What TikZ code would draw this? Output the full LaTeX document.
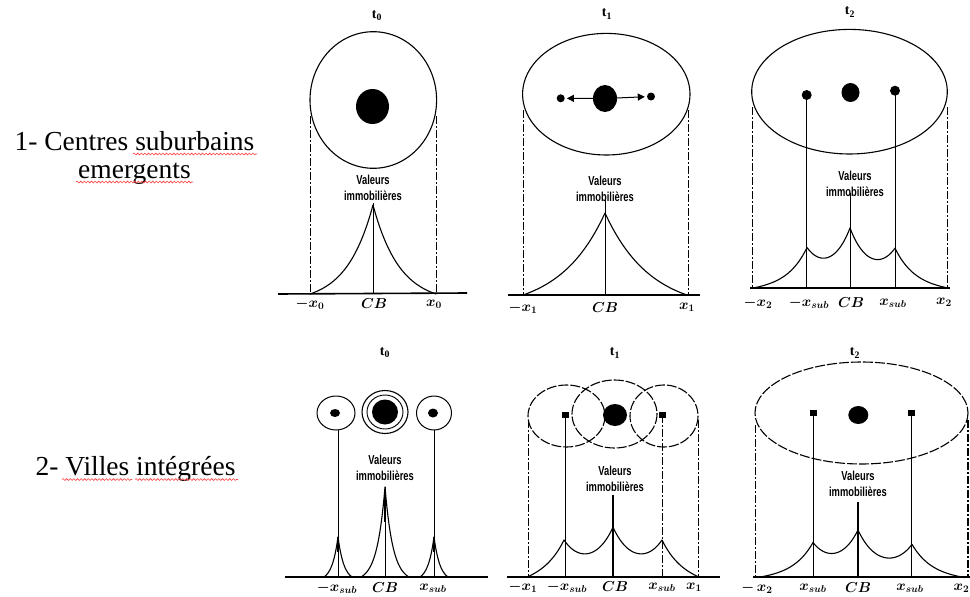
\documentclass[tikz,border=0pt]{standalone}
\usepackage{fontspec}
\setmainfont{Liberation Serif}
\newfontfamily\valfont{Liberation Sans}[FakeStretch=0.72]
\usetikzlibrary{shapes.geometric,arrows.meta,decorations.pathmorphing}

\begin{document}
\begin{tikzpicture}[x=1pt,y=-1pt,
  declare function={ep(\t,\c,\s)=exp(-abs(\t-\c)/\s);},
  ring/.style={line width=1.1pt},
  dring/.style={line width=1.1pt,dash pattern=on 10pt off 2pt},
  side/.style={line width=1pt,dash pattern=on 8pt off 2pt on 2pt off 2pt},
  stem/.style={line width=1pt},
  axis/.style={line width=1.6pt},
  curve/.style={line width=1.1pt,line join=round},
  blob/.style={ellipse,fill=black,inner sep=0pt},
  spot/.style={circle,fill=black,inner sep=0pt,minimum size=#1},
  sq/.style={rectangle,fill=black,inner sep=0pt,minimum width=7pt,minimum height=6pt},
  val/.style={font=\valfont\bfseries\fontsize{13}{16.5}\selectfont,align=center,inner sep=0pt},
  lab/.style={font=\fontsize{14.5}{15}\selectfont\boldmath,inner sep=0pt},
  tlab/.style={font=\bfseries\fontsize{14}{14}\selectfont,inner sep=0pt},
  big/.style={font=\fontsize{27.5}{28}\selectfont,inner sep=0pt,anchor=base},
  wavy/.style={red!75,line width=0.6pt,decorate,decoration={snake,amplitude=0.9pt,segment length=3.6pt}}
]
\useasboundingbox (0,0) rectangle (970,597);
\fill[white] (0,0) rectangle (970,597);

% ---------- row titles ----------
\node[big] (h1) at (134.5,150) {1- Centres suburbains};
\node[big] (h1b) at (134.5,178) {emergents};
\node[big] (h2) at (135.5,475) {2- Villes intégrées};
\draw[wavy] (133,154) -- (257,154);
\draw[wavy] (76,182) -- (193,182);
\draw[wavy] (62,479.5) -- (132,479.5);
\draw[wavy] (135,479.5) -- (238,479.5);

% ========== row 1, panel t0 ==========
\node[tlab] (ta0) at (377,16) {t\textsubscript{0}};
\draw[ring] (373.3,100) ellipse [x radius=63.3,y radius=68.3];
\node[blob,minimum width=33pt,minimum height=35pt] (ca0) at (372.5,106.5) {};
\coordinate (pa0L) at (310,116); \coordinate (qa0L) at (310,294);
\coordinate (pa0R) at (436,116); \coordinate (qa0R) at (436,294);
\coordinate (pa0C) at (373,203); \coordinate (qa0C) at (373,294);
\draw[side] (pa0L) -- (qa0L);
\draw[side] (pa0R) -- (qa0R);
\draw[stem,line width=0.8pt] (pa0C) -- (qa0C);
\draw[curve] plot[domain=310:436,samples=127] (\x,{294-89*(ep(\x,373,26.5)-0.0929)/0.9071});
\coordinate (xa0L) at (278,294); \coordinate (xa0R) at (467,293);
\draw[axis] (xa0L) -- (xa0R);
\node[val] (va0) at (373,188) {Valeurs\\immobilières};
\node[lab] (la0a) at (310,304) {$-x_0$};
\node[lab] (la0b) at (374,304) {$CB$};
\node[lab] (la0c) at (434,304) {$x_0$};

% ========== row 1, panel t1 ==========
\node[tlab] (ta1) at (607,14) {t\textsubscript{1}};
\draw[ring] (606.3,94.2) ellipse [x radius=83.7,y radius=60.8];
\node[blob,minimum width=24pt,minimum height=27pt] (ca1) at (605,98.5) {};
\node[spot=8pt] (sa1L) at (560.7,98.3) {};
\node[spot=8pt] (sa1R) at (651,96.5) {};
\draw[line width=1pt,-{Triangle[length=7pt,width=7pt]},shorten >=2pt] (ca1) -- (sa1L);
\draw[line width=1pt,-{Triangle[length=7pt,width=7pt]},shorten >=2pt] (ca1) -- (sa1R);
\coordinate (pa1L) at (523,110); \coordinate (qa1L) at (523,295);
\coordinate (pa1R) at (688,110); \coordinate (qa1R) at (688,295);
\coordinate (pa1C) at (605,200); \coordinate (qa1C) at (605,295);
\draw[side] (pa1L) -- (qa1L);
\draw[side] (pa1R) -- (qa1R);
\draw[stem] (pa1C) -- (qa1C);
\draw[curve] plot[domain=523:687,samples=165] (\x,{295-82*(ep(\x,605,45)-0.162)/0.838});
\coordinate (xa1L) at (508,295); \coordinate (xa1R) at (700,295);
\draw[axis] (xa1L) -- (xa1R);
\node[val] (va1) at (605,189) {Valeurs\\immobilières};
\node[lab] (la1a) at (523,308) {$-x_1$};
\node[lab] (la1b) at (605,308) {$CB$};
\node[lab] (la1c) at (687,307) {$x_1$};

% ========== row 1, panel t2 ==========
\node[tlab] (ta2) at (850,12) {t\textsubscript{2}};
\draw[ring] (849.5,91.7) ellipse [x radius=97.8,y radius=62.3];
\node[blob,minimum width=18pt,minimum height=19pt] (ca2) at (850.5,92.5) {};
\node[spot=10pt] (sa2L) at (806.7,95) {};
\node[spot=10pt] (sa2R) at (895,90.7) {};
\coordinate (qa2l) at (806.7,288); \coordinate (qa2r) at (895,288);
\draw[stem] (sa2L.center) -- (qa2l);
\draw[stem] (sa2R.center) -- (qa2r);
\coordinate (pa2L) at (752,107); \coordinate (qa2L) at (752,288);
\coordinate (pa2R) at (947,107); \coordinate (qa2R) at (947,288);
\coordinate (pa2C) at (850,193); \coordinate (qa2C) at (850,288);
\draw[side] (pa2L) -- (qa2L);
\draw[side] (pa2R) -- (qa2R);
\draw[stem] (pa2C) -- (qa2C);
\draw[curve] plot[domain=752:947,samples=196]
  (\x,{288-(52.4*ep(\x,850,20)+34.5*ep(\x,807,20)+34.5*ep(\x,895,20))+2.8*((\x-850)/97.5)^2});
\coordinate (xa2L) at (750,288); \coordinate (xa2R) at (950,288);
\draw[axis] (xa2L) -- (xa2R);
\node[val] (va2) at (855,184) {Valeurs\\immobilières};
\node[lab] (la2a) at (758,303) {$-x_2$};
\node[lab] (la2b) at (809,303) {$-x_{sub}$};
\node[lab] (la2c) at (851,303) {$CB$};
\node[lab] (la2d) at (893,303) {$x_{sub}$};
\node[lab] (la2e) at (944,302) {$x_2$};

% ========== row 2, panel t0 ==========
\node[tlab] (tb0) at (385,353) {t\textsubscript{0}};
\draw[ring,line width=1pt] (336,413) ellipse [x radius=19,y radius=17];
\node[blob,minimum width=10pt,minimum height=8pt] (sb0L) at (335,413) {};
\draw[ring] (385,412) ellipse [x radius=23,y radius=21.5];
\draw[ring,line width=0.9pt] (385,412) ellipse [x radius=18,y radius=17];
\node[blob,minimum width=26pt,minimum height=25pt] (cb0) at (385,412) {};
\draw[ring,line width=1pt] (434,413) ellipse [x radius=17.5,y radius=17];
\node[blob,minimum width=10pt,minimum height=9pt] (sb0R) at (433,413) {};
\coordinate (pb0L) at (338,430); \coordinate (qb0L) at (338,577);
\coordinate (pb0R) at (434,430); \coordinate (qb0R) at (434,577);
\coordinate (pb0C) at (385,487); \coordinate (qb0C) at (385,577);
\draw[stem,line width=0.9pt] (pb0L) -- (qb0L);
\draw[stem,line width=0.9pt] (pb0R) -- (qb0R);
\draw[stem] (pb0C) -- (qb0C);
\draw[line width=2.6pt] (385,490) -- (385,522);
\draw[line width=2.4pt] (338,537) -- (338,552);
\draw[line width=2.4pt] (434,537) -- (434,552);
\draw[curve] plot[domain=361:409,samples=49] (\x,{577-90*(ep(\x,385,8)-0.0498)/0.9502});
\draw[curve] plot[domain=324:352,samples=29] (\x,{577-40*(ep(\x,338,6)-0.097)/0.903});
\draw[curve] plot[domain=420:448,samples=29] (\x,{577-40*(ep(\x,434,6)-0.097)/0.903});
\coordinate (xb0L) at (285,577); \coordinate (xb0R) at (488,577);
\draw[axis] (xb0L) -- (xb0R);
\node[val] (vb0) at (385,468) {Valeurs\\immobilières};
\node[lab] (lb0a) at (337,588) {$-x_{sub}$};
\node[lab] (lb0b) at (385,588) {$CB$};
\node[lab] (lb0c) at (433,588) {$x_{sub}$};

% ========== row 2, panel t1 ==========
\node[tlab] (tb1) at (615,353) {t\textsubscript{1}};
\draw[dring] (566.5,416) ellipse [x radius=38.5,y radius=31];
\draw[dring] (614.5,414) ellipse [x radius=42.5,y radius=34];
\draw[dring] (664,416) ellipse [x radius=34,y radius=31];
\node[blob,minimum width=24pt,minimum height=22pt] (cb1) at (615,415) {};
\node[sq] (sb1L) at (565,415) {};
\node[sq] (sb1R) at (662,415) {};
\coordinate (qb1l) at (565,577); \coordinate (qb1r) at (662,577);
\draw[stem] (sb1L.center) -- (qb1l);
\draw[side] (sb1R.center) -- (qb1r);
\coordinate (pb1L) at (528,420); \coordinate (qb1L) at (528,577);
\coordinate (pb1R) at (698,420); \coordinate (qb1R) at (698,577);
\coordinate (pb1C) at (613,495); \coordinate (qb1C) at (613,577);
\draw[side] (pb1L) -- (qb1L);
\draw[side] (pb1R) -- (qb1R);
\draw[stem,line width=1.6pt] (pb1C) -- (qb1C);
\draw[curve] plot[domain=528:698,samples=171]
  (\x,{577-(43.8*ep(\x,613,20)+35*ep(\x,564,20)+35*ep(\x,662,20))+6.1*((\x-613)/85)^2});
\coordinate (xb1L) at (507,577); \coordinate (xb1R) at (720,577);
\draw[axis] (xb1L) -- (xb1R);
\node[val] (vb1) at (615,479) {Valeurs\\immobilières};
\node[lab] (lb1a) at (523,587) {$-x_1$};
\node[lab] (lb1b) at (567,587) {$-x_{sub}$};
\node[lab] (lb1c) at (615,587) {$CB$};
\node[lab] (lb1d) at (662,587) {$x_{sub}$};
\node[lab] (lb1e) at (694,587) {$x_1$};

% ========== row 2, panel t2 ==========
\node[tlab] (tb2) at (855,353) {t\textsubscript{2}};
\draw[dring] (861.5,413) ellipse [x radius=106.5,y radius=51];
\node[blob,minimum width=20pt,minimum height=18pt] (cb2) at (858.3,415) {};
\node[sq] (sb2L) at (813.3,413.3) {};
\node[sq] (sb2R) at (911.7,413.3) {};
\coordinate (qb2l) at (813.3,577); \coordinate (qb2r) at (911.7,577);
\draw[stem] (sb2L.center) -- (qb2l);
\draw[stem] (sb2R.center) -- (qb2r);
\coordinate (pb2L) at (755,425); \coordinate (qb2L) at (755,577);
\coordinate (pb2R) at (968,420); \coordinate (qb2R) at (968,577);
\coordinate (pb2C) at (858,502); \coordinate (qb2C) at (858,577);
\draw[side] (pb2L) -- (qb2L);
\draw[side,line width=1.6pt] (pb2R) -- (qb2R);
\draw[stem,line width=1.4pt] (pb2C) -- (qb2C);
\draw[curve] plot[domain=763:965,samples=203]
  (\x,{577-(41.8*ep(\x,858,20)+30.4*ep(\x,813,20)+30.4*ep(\x,912,20))+2.6*((\x-858)/100)^2});
\coordinate (xb2L) at (753,577); \coordinate (xb2R) at (970,577);
\draw[axis] (xb2L) -- (xb2R);
\node[val] (vb2) at (858,484) {Valeurs\\immobilières};
\node[lab] (lb2a) at (757,588) {$-\,x_2$};
\node[lab] (lb2b) at (813,588) {$x_{sub}$};
\node[lab] (lb2c) at (858,588) {$CB$};
\node[lab] (lb2d) at (910,588) {$x_{sub}$};
\node[lab,anchor=east] (lb2e) at (969.5,588) {$x_2$};
\end{tikzpicture}
\end{document}
